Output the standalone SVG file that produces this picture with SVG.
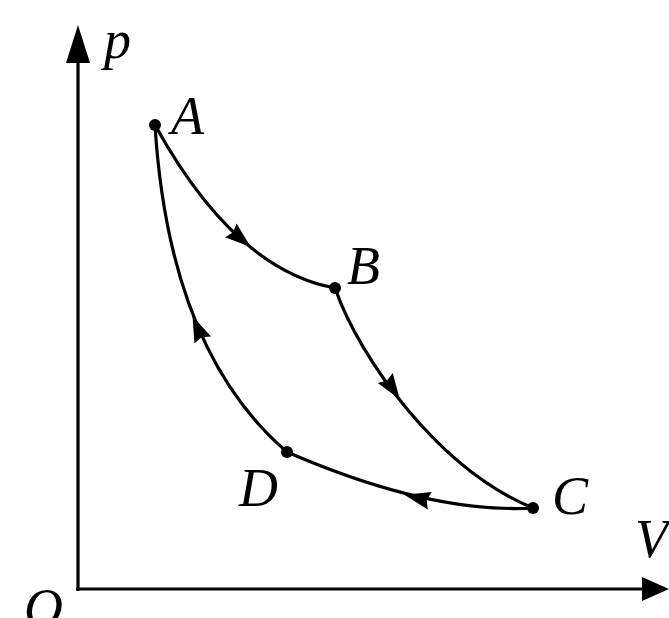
<svg xmlns="http://www.w3.org/2000/svg" width="669" height="618" viewBox="0 0 669 618">
<style>
.ax{stroke:#000;stroke-width:3.2;fill:none}
.cv{stroke:#000;stroke-width:3.2;fill:none}
.lb{font-family:"Liberation Serif","Times New Roman",serif;font-style:italic;font-size:54px;fill:#000}
.hd{fill:#000}
</style>
<defs>
<polygon id="ah" points="14,0 -12,-9 -9,0 -12,9"/>
</defs>
<rect width="669" height="618" fill="#fff"/>
<g id="axes">
<line class="ax" x1="78" y1="591" x2="78" y2="58"/>
<polygon class="hd" points="78,25 66,63 90,63"/>
<line class="ax" x1="76" y1="589" x2="645" y2="589"/>
<polygon class="hd" points="669,589 642,577 642,601"/>
<text class="lb" x="104" y="58">p</text>
<text class="lb" x="635" y="557">V</text>
<text class="lb" x="24" y="626">O</text>
</g>
<g id="connectors">
<path class="cv" d="M155,125 Q235,270 335,288"/>
<path class="cv" d="M335,288 C360,360 440,470 533,508"/>
<path class="cv" d="M533,508 Q430,514 287,452"/>
<path class="cv" d="M287,452 Q169,351 155,125"/>
<use href="#ah" transform="translate(240,238) rotate(40)"/>
<use href="#ah" transform="translate(392,388) rotate(56)"/>
<use href="#ah" transform="translate(418,498) rotate(193)"/>
<use href="#ah" transform="translate(198,329) rotate(-113)"/>
</g>
<g id="node-A"><circle cx="155" cy="125" r="6"/><text class="lb" x="171" y="134">A</text></g>
<g id="node-B"><circle cx="335" cy="288" r="6"/><text class="lb" x="347" y="284">B</text></g>
<g id="node-C"><circle cx="533" cy="508" r="6"/><text class="lb" x="552" y="514">C</text></g>
<g id="node-D"><circle cx="287" cy="452" r="6"/><text class="lb" x="239" y="506">D</text></g>
</svg>
